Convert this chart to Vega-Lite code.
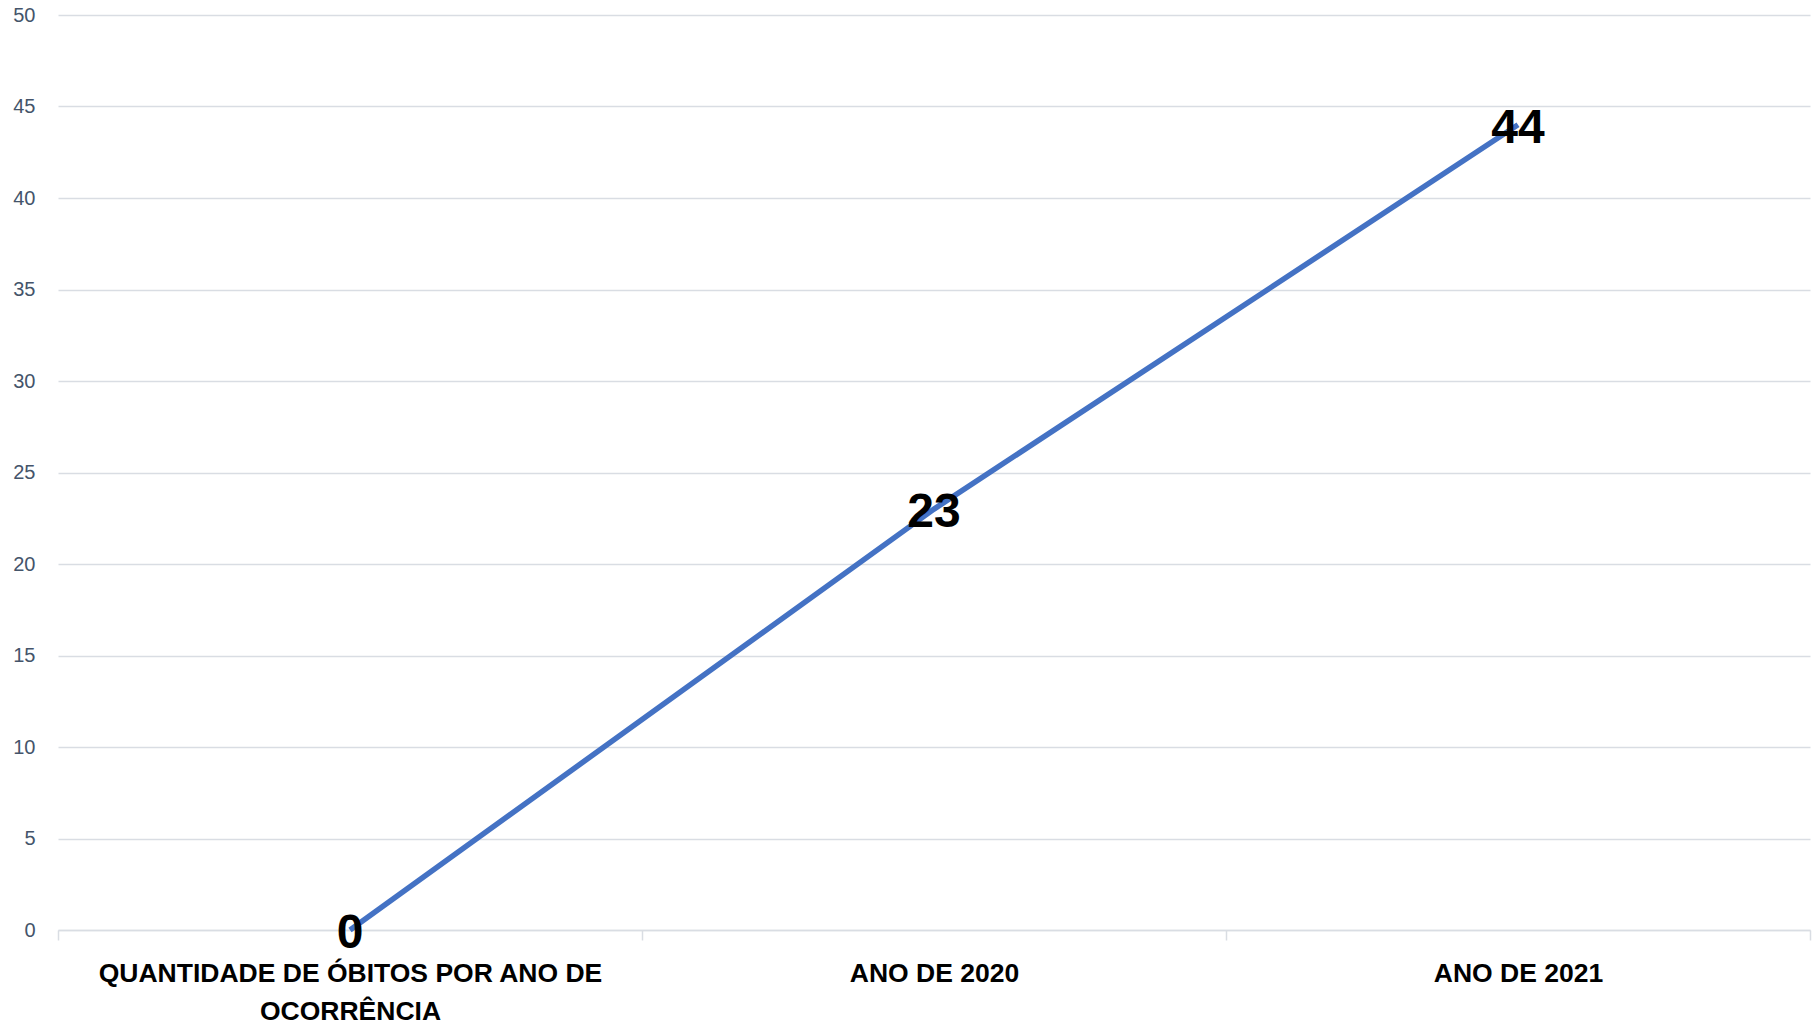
{
  "$schema": "https://vega.github.io/schema/vega-lite/v6.json",
  "width": 1752,
  "height": 915,
  "autosize": {"type": "none"},
  "padding": {"left": 58, "top": 15, "right": 10, "bottom": 95},
  "background": "white",
  "config": {"view": {"stroke": null}},
  "data": {"values": [
    {"categoria": "QUANTIDADE DE ÓBITOS POR ANO DE OCORRÊNCIA", "valor": 0},
    {"categoria": "ANO DE 2020", "valor": 23},
    {"categoria": "ANO DE 2021", "valor": 44}
  ]},
  "encoding": {
    "x": {
      "field": "categoria", "type": "nominal", "sort": null,
      "scale": {"type": "band", "paddingInner": 0, "paddingOuter": 0},
      "axis": {
        "title": null, "labelAngle": 0, "tickBand": "extent",
        "grid": false, "domainColor": "#d9dde3", "domainWidth": 1.5,
        "tickColor": "#d9dde3", "tickWidth": 1.5, "tickSize": 10,
        "labelFont": "Liberation Sans", "labelFontWeight": "bold", "labelFontSize": 26.5,
        "labelColor": "#000000", "labelPadding": 20, "labelLimit": 0, "labelLineHeight": 38,
        "labelBaseline": "top",
        "labelExpr": "datum.value == 'QUANTIDADE DE ÓBITOS POR ANO DE OCORRÊNCIA' ? ['QUANTIDADE DE ÓBITOS POR ANO DE', 'OCORRÊNCIA'] : datum.value"
      }
    },
    "y": {
      "field": "valor", "type": "quantitative",
      "scale": {"domain": [0, 50], "nice": false},
      "axis": {
        "title": null, "values": [0, 5, 10, 15, 20, 25, 30, 35, 40, 45, 50],
        "domain": false, "ticks": false, "labelPadding": 23,
        "labelFont": "Liberation Sans", "labelFontSize": 20, "labelColor": "#44546A",
        "gridColor": "#d9dde3", "gridWidth": 1.5
      }
    }
  },
  "layer": [
    {"mark": {"type": "line", "color": "#4472C4", "strokeWidth": 5.5}},
    {"mark": {"type": "text", "font": "Liberation Sans", "fontWeight": "bold", "fontSize": 48, "color": "#000000", "align": "center", "baseline": "middle", "dy": 4},
     "encoding": {"text": {"field": "valor", "type": "quantitative"}}}
  ]
}
